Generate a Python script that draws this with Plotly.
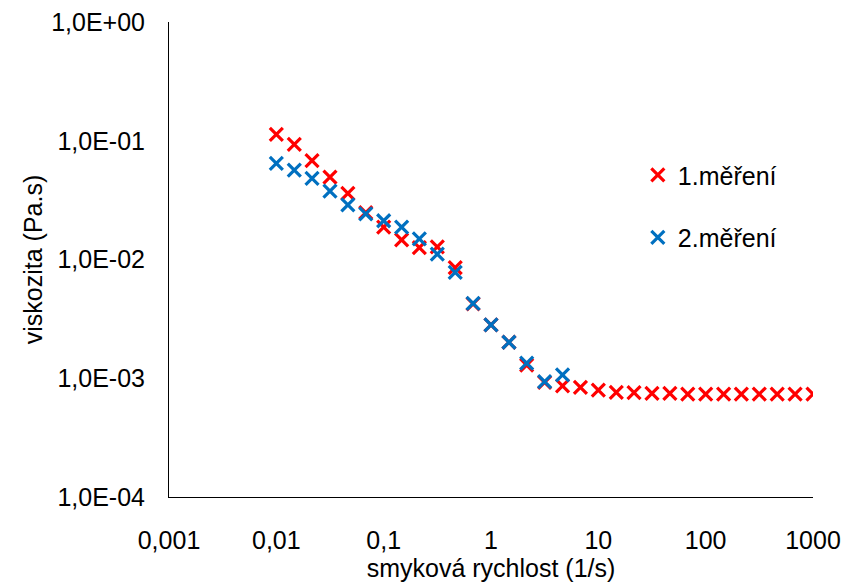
import plotly.graph_objects as go

# shear rate (1/s), 6 points per decade
shear_rate_1 = [0.01, 0.0147, 0.0215, 0.0316, 0.0464, 0.0681,
                0.1, 0.147, 0.215, 0.316, 0.464, 0.681,
                1, 1.47, 2.15, 3.16, 4.64, 6.81,
                10, 14.7, 21.5, 31.6, 46.4, 68.1,
                100, 147, 215, 316, 464, 681, 1000]
viscosity_1 = [0.113, 0.0933, 0.0679, 0.0495, 0.0361, 0.0248,
               0.0187, 0.0146, 0.0126, 0.0128, 0.00853, 0.00422,
               0.00281, 0.00201, 0.00129, 0.000924, 0.000861, 0.000839,
               0.000796, 0.000762, 0.000756, 0.000747, 0.000747, 0.000736,
               0.000736, 0.000736, 0.000736, 0.000736, 0.000736, 0.000736, 0.000736]

shear_rate_2 = [0.01, 0.0147, 0.0215, 0.0316, 0.0464, 0.0681,
                0.1, 0.147, 0.215, 0.316, 0.464, 0.681,
                1, 1.47, 2.15, 3.16, 4.64]
viscosity_2 = [0.0646, 0.0567, 0.0483, 0.0377, 0.0288, 0.0242,
               0.0212, 0.0187, 0.0149, 0.0111, 0.0078, 0.00428,
               0.00281, 0.00201, 0.00134, 0.000935, 0.00107]

x_tickvals = [0.001, 0.01, 0.1, 1, 10, 100, 1000]
x_ticktext = ["0,001", "0,01", "0,1", "1", "10", "100", "1000"]
y_tickvals = [1e-4, 1e-3, 1e-2, 1e-1, 1]
y_ticktext = ["1,0E-04", "1,0E-03", "1,0E-02", "1,0E-01", "1,0E+00"]

series_names = ["1.měření", "2.měření"]

FONT = "Liberation Sans, Arial, sans-serif"
FS = 25

fig = go.Figure()
fig.add_trace(go.Scatter(
    x=shear_rate_1, y=viscosity_1, mode="markers", name=series_names[0],
    legendgroup="a",
    marker=dict(symbol="x-thin", size=13, line=dict(color="#FF0000", width=3.2), color="#FF0000"),
))
fig.add_trace(go.Scatter(
    x=shear_rate_2, y=viscosity_2, mode="markers", name=series_names[1],
    legendgroup="b",
    marker=dict(symbol="x-thin", size=13, line=dict(color="#0070C0", width=3.2), color="#0070C0"),
))

fig.update_layout(
    width=842, height=582,
    margin=dict(l=169, r=29, t=22, b=85),
    paper_bgcolor="white", plot_bgcolor="white",
    font=dict(family=FONT, size=FS, color="#000000"),
    legend=dict(x=0.728, y=0.726, xanchor="left", yanchor="top",
                tracegroupgap=27, traceorder="grouped",
                font=dict(family=FONT, size=FS, color="#000000"),
                bgcolor="rgba(0,0,0,0)", itemwidth=30),
    showlegend=True,
)
fig.update_xaxes(
    type="log", range=[-3, 3], automargin=False,
    tickvals=x_tickvals, ticktext=x_ticktext,
    showgrid=False, zeroline=False,
    showline=True, linecolor="#000000", linewidth=1,
    ticks="", ticklabelstandoff=21, ticklabeloverflow="allow",
    tickfont=dict(family=FONT, size=FS),
    title=dict(text="smyková rychlost (1/s)", font=dict(family=FONT, size=FS), standoff=9),
)
fig.update_yaxes(
    type="log", range=[-4, 0], automargin=False,
    tickvals=y_tickvals, ticktext=y_ticktext,
    showgrid=False, zeroline=False,
    showline=True, linecolor="#000000", linewidth=1,
    ticks="", ticklabelstandoff=18, ticklabeloverflow="allow",
    tickfont=dict(family=FONT, size=FS),
    title=dict(text="viskozita (Pa.s)", font=dict(family=FONT, size=FS), standoff=1),
)

# remove the browser's default 8px body margin so the figure fills the window exactly
fig.write_html(
    "out.html",
    config={"displayModeBar": False},
    post_script="document.body.style.margin='0';document.body.style.overflow='hidden';",
)
